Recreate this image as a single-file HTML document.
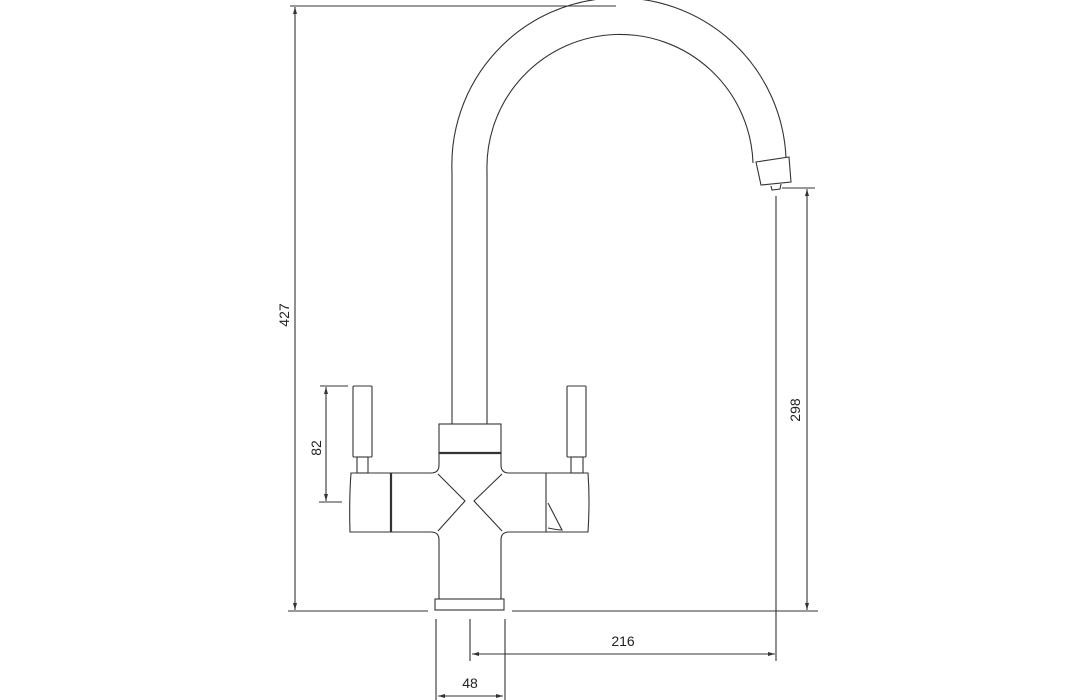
<!DOCTYPE html>
<html><head><meta charset="utf-8"><style>
html,body{margin:0;padding:0;background:#fff;}
svg{display:block}
text{font-family:"Liberation Sans",sans-serif;font-size:14px;fill:#222}
</style></head><body>
<svg width="1091" height="700" viewBox="0 0 1091 700" xmlns="http://www.w3.org/2000/svg">
<g fill="none" stroke="#333" stroke-width="1.1">
<!-- spout -->
<path d="M452,424 L452,172 A167,167 0 0 1 786,158"/>
<path d="M487,424 L487,172 A133,133 0 0 1 753,163"/>
<path d="M756,162 L789,157 L791,182 L761,185 Z"/>
<path d="M771,186 L772,190 L780,189 L781,184"/>
<!-- collar -->
<rect x="439" y="424" width="62" height="29"/>
<line x1="439" y1="453" x2="501" y2="453" stroke-width="2.2"/>
<!-- center body -->
<path d="M439,453 L439,465 Q439,473 431,473 L392,473"/>
<path d="M501,453 L501,465 Q501,473 509,473 L546,473"/>
<path d="M392,532 L431,532 Q439,532 439,540 L439,599"/>
<path d="M546,532 L509,532 Q501,532 501,540 L501,599"/>
<path d="M438,474 L465,501 L438,531"/>
<path d="M502,474 L474,501 L502,531"/>
<!-- left cap -->
<path d="M392,473 L351,473 Q349,500 350,532 L392,532"/>
<line x1="391" y1="473" x2="391" y2="532" stroke-width="2.2"/>
<rect x="353" y="386" width="19" height="71" rx="1"/>
<rect x="357" y="457" width="11" height="16"/>
<!-- right cap -->
<path d="M546,473 L588,473 Q590,500 588,532 L546,532 Z"/>
<path d="M548,503 L562,530 Q558,530 548,528"/>
<rect x="567" y="386" width="19" height="71" rx="1"/>
<rect x="571" y="457" width="12" height="16"/>
<!-- base -->
<rect x="435" y="599" width="69" height="11"/>
<!-- ground line -->
<line x1="288" y1="611" x2="428" y2="611"/>
<line x1="512" y1="611" x2="818" y2="611"/>
<!-- 427 -->
<line x1="290" y1="6" x2="616" y2="6"/>
<line x1="295" y1="7" x2="295" y2="610"/>
<!-- 82 -->
<line x1="320" y1="386" x2="348" y2="386"/>
<line x1="319" y1="502" x2="342" y2="502"/>
<line x1="326" y1="387" x2="326" y2="501"/>
<!-- 298 -->
<line x1="782" y1="188" x2="815" y2="188"/>
<line x1="807" y1="189" x2="807" y2="610"/>
<line x1="776" y1="196" x2="776" y2="661"/>
<!-- 216 / 48 -->
<line x1="470" y1="619" x2="470" y2="661"/>
<line x1="472" y1="654" x2="775" y2="654"/>
<line x1="436" y1="619" x2="436" y2="700"/>
<line x1="505" y1="619" x2="505" y2="700"/>
<line x1="438" y1="696" x2="503" y2="696"/>
</g>
<g fill="#333">
<path d="M295,7 l-2,7 h4z"/><path d="M295,610 l-2,-7 h4z"/>
<path d="M326,387 l-2,7 h4z"/><path d="M326,501 l-2,-7 h4z"/>
<path d="M807,189 l-2,7 h4z"/><path d="M807,610 l-2,-7 h4z"/>
<path d="M472,654 l7,-2 v4z"/><path d="M775,654 l-7,-2 v4z"/>
<path d="M438,696 l7,-2 v4z"/><path d="M503,696 l-7,-2 v4z"/>
</g>
<text x="284" y="315" text-anchor="middle" transform="rotate(-90 284 315)" dy="5">427</text>
<text x="316" y="448" text-anchor="middle" transform="rotate(-90 316 448)" dy="5">82</text>
<text x="795" y="410" text-anchor="middle" transform="rotate(-90 795 410)" dy="5">298</text>
<text x="623" y="646" text-anchor="middle">216</text>
<text x="470" y="688" text-anchor="middle">48</text>
</svg>
</body></html>
